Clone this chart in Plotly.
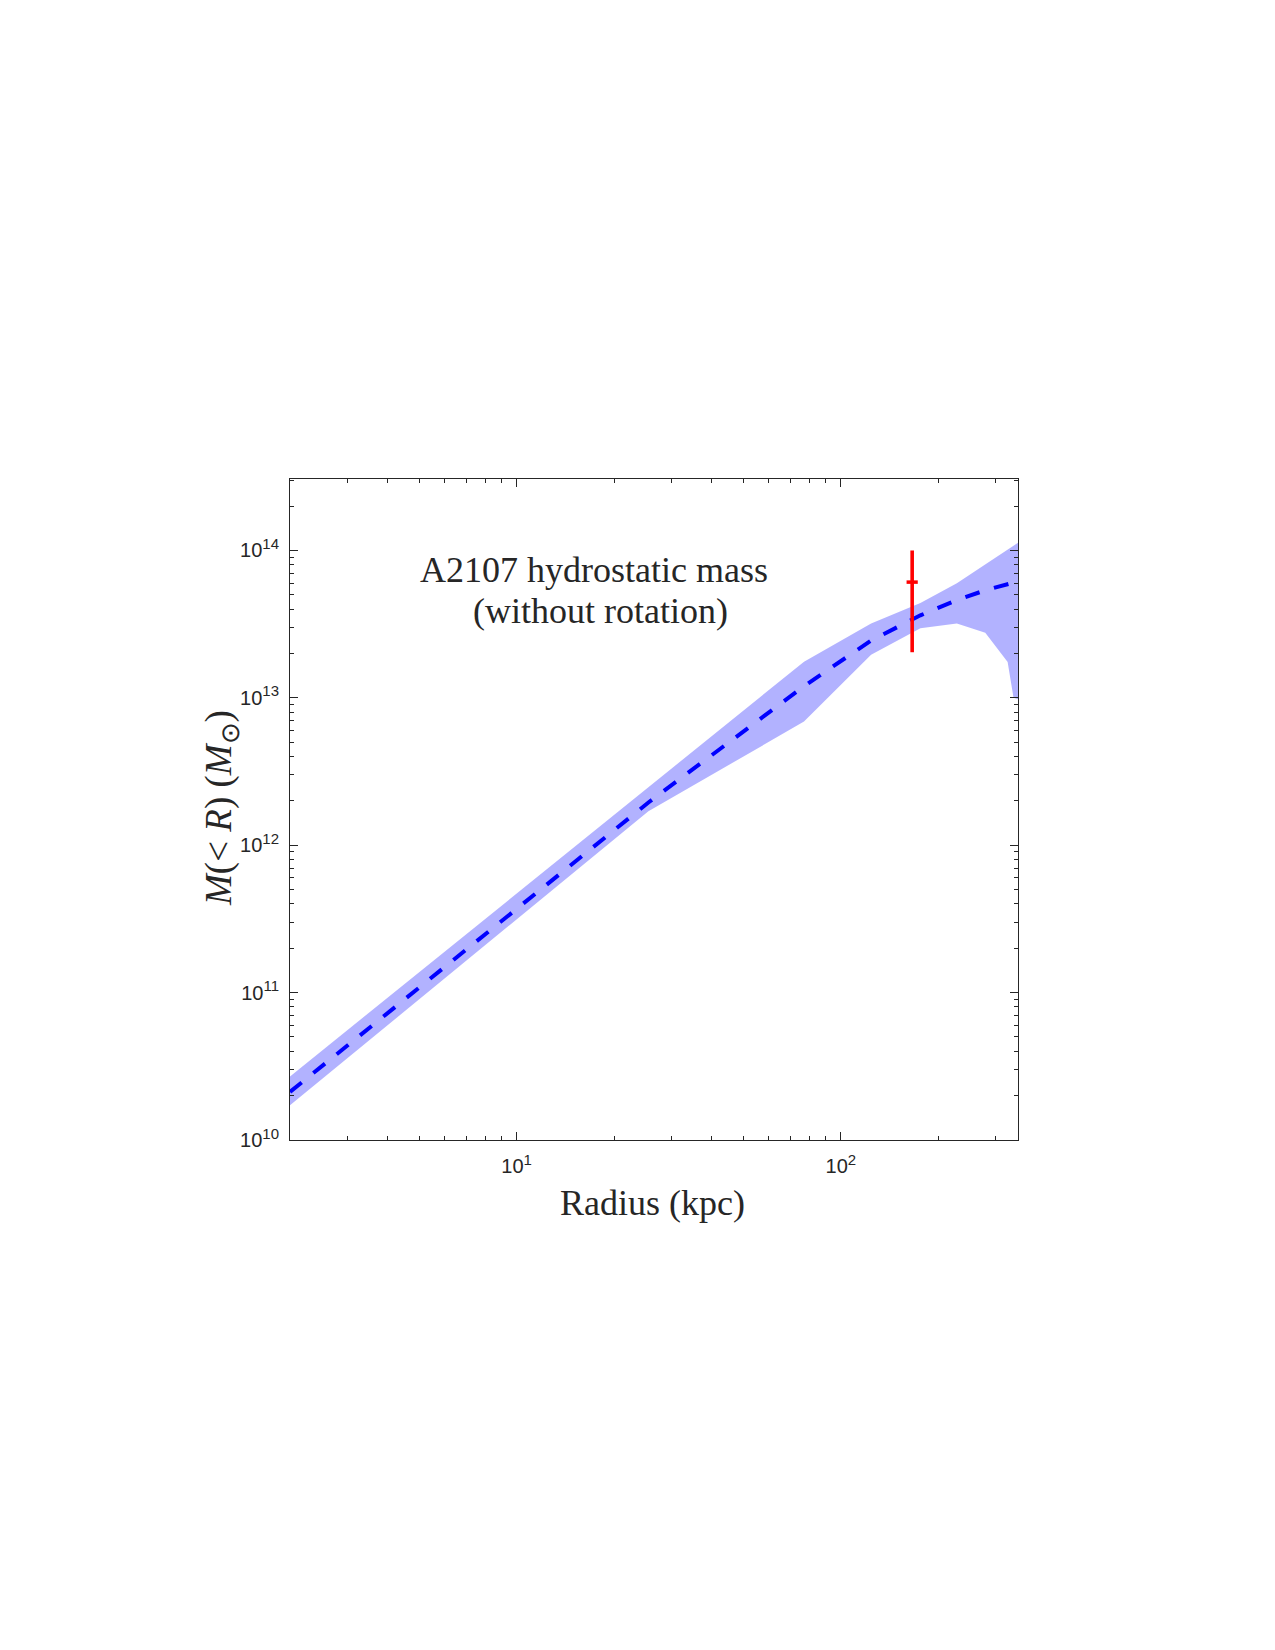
import numpy as np
import plotly.graph_objects as go

# ---- data ----
radius_kpc = [2, 25.5, 77, 124, 176, 228, 279, 327, 341, 352]
mass_best = [2.12e10, 1.95e12, 1.2e13, 2.45e13, 3.63e13, 4.6e13, 5.37e13, 5.95e13, 6.05e13, 6.1e13]
mass_upper = [2.7e10, 2.5e12, 1.76e13, 3.2e13, 4.4e13, 6.0e13, 8.1e13, 1.02e14, 1.08e14, 1.13e14]
mass_lower = [1.72e10, 1.7e12, 6.9e12, 1.96e13, 2.97e13, 3.2e13, 2.77e13, 1.75e13, 1.0e13, 9.8e12]

obs_radius = [166]
obs_mass = [6.1e13]
obs_err_plus = [3.9e13]
obs_err_minus = [4.06e13]

x_tickvals = [10, 100]
x_exponents = ["1", "2"]
y_tickvals = [1e10, 1e11, 1e12, 1e13, 1e14]
y_exponents = ["10", "11", "12", "13", "14"]

title_lines = ["A2107 hydrostatic mass", "(without rotation)"]
x_label = "Radius (kpc)"
y_label = "<i>M</i>(&lt; <i>R</i>) (<i>M</i><sub>⊙</sub>)"


def pow_label(e):
    return "10<sup><span style='font-size:15px'>" + e + "</span></sup>"


fig = go.Figure()

# uncertainty band
fig.add_trace(go.Scatter(
    x=radius_kpc + radius_kpc[::-1],
    y=mass_upper + mass_lower[::-1],
    fill="toself", fillcolor="rgba(0,0,255,0.3)",
    line=dict(width=0), mode="lines", hoverinfo="skip", showlegend=False))

# best-fit mass profile
fig.add_trace(go.Scatter(
    x=radius_kpc, y=mass_best, mode="lines",
    line=dict(color="rgb(0,0,255)", width=4, dash="15px,15px"),
    showlegend=False))

# observed point with error bar
fig.add_trace(go.Scatter(
    x=obs_radius, y=obs_mass, mode="markers",
    marker=dict(symbol="line-ew", size=8, color="red",
                line=dict(color="red", width=3.5)),
    error_y=dict(type="data", symmetric=False, array=obs_err_plus,
                 arrayminus=obs_err_minus, color="red", thickness=3.6, width=0),
    showlegend=False))

axis_common = dict(
    type="log", showgrid=False, zeroline=False,
    showline=True, linecolor="#262626", linewidth=1, mirror="allticks",
    ticks="inside", ticklen=8, tickcolor="#262626", tickwidth=1,
    tickmode="array",
    tickfont=dict(family="Liberation Sans", size=20, color="#262626"),
    minor=dict(ticks="inside", ticklen=4, tickcolor="#262626", tickwidth=1,
               dtick="D1", showgrid=False),
)

fig.update_xaxes(range=[np.log10(2), np.log10(352)], tickvals=x_tickvals,
                 ticktext=[pow_label(e) for e in x_exponents],
                 ticklabelstandoff=8, **axis_common)
fig.update_yaxes(range=[10, 14.485], tickvals=y_tickvals,
                 ticktext=[pow_label(e) for e in y_exponents],
                 ticklabelstandoff=6, **axis_common)

L, R, T, B = 290, 257, 479, 510
W, H = 1275, 1650
pw, ph = W - L - R, H - T - B


def px(xp):
    return (xp - L) / pw


def py(yp):
    return (H - B - yp) / ph


serif = dict(family="Liberation Serif", size=36, color="#262626")
ann = [
    dict(x=px(594), y=py(570), text=title_lines[0]),
    dict(x=px(600), y=py(611), text=title_lines[1]),
    dict(x=px(652), y=py(1203), text=x_label),
    dict(x=px(221), y=py(808), text=y_label, textangle=-90,
         font=dict(family="Liberation Serif", size=37, color="#262626")),
]
for a in ann:
    a.setdefault("font", serif)
    a.update(xref="paper", yref="paper", showarrow=False, xanchor="center",
             yanchor="middle")

fig.update_layout(
    width=W, height=H, autosize=False,
    margin=dict(l=L, r=R, t=T, b=B),
    paper_bgcolor="white", plot_bgcolor="white",
    annotations=ann, showlegend=False,
)

fig.write_html("out.html")
